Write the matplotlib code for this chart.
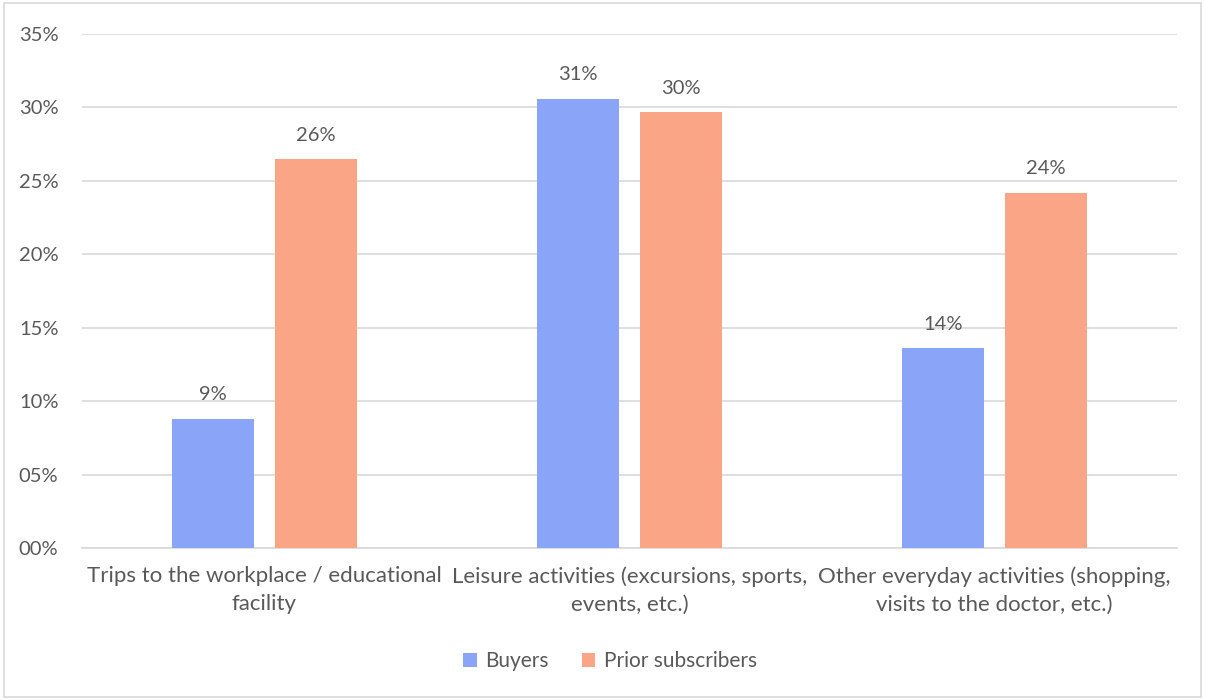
import numpy as np
import matplotlib.pyplot as plt

plt.rcParams['font.family'] = ['Lato', 'DejaVu Sans']

categories = ["Trips to the workplace / educational\nfacility",
              "Leisure activities (excursions, sports,\nevents, etc.)",
              "Other everyday activities (shopping,\nvisits to the doctor, etc.)"]
buyers = [8.8, 30.6, 13.6]
prior = [26.5, 29.7, 24.2]
yticks = [0, 5, 10, 15, 20, 25, 30, 35]
ytick_labels = ["00%", "05%", "10%", "15%", "20%", "25%", "30%", "35%"]

txt = '#595959'
c_buy = '#8aa4f8'
c_pri = '#f9a586'

fig = plt.figure(figsize=(12.05, 7), dpi=100)
# outer border
fig.patches.append(plt.Rectangle((0.003, 0.004), 0.994, 0.992, transform=fig.transFigure,
                                 fill=False, edgecolor='#d9d9d9', linewidth=1.2))
ax = fig.add_axes([82/1205, 1-548/700, (1177-82)/1205, (548-34)/700])

x = np.arange(len(categories))
w = 0.225
off = 0.141
b1 = ax.bar(x - off, buyers, w, color=c_buy, label='Buyers', zorder=3)
b2 = ax.bar(x + off, prior, w, color=c_pri, label='Prior subscribers', zorder=3)

for bars, vals in ((b1, buyers), (b2, prior)):
    for r, v in zip(bars, vals):
        ax.annotate(f"{v:.0f}%", (r.get_x() + r.get_width()/2, v), xytext=(0, 11),
                    textcoords='offset points', ha='center', va='bottom',
                    fontsize=14.5, color=txt)

ax.set_xlim(-0.5, 2.5)
ax.set_ylim(0, 35)
ax.set_yticks(yticks)
ax.set_yticklabels(ytick_labels)
ax.set_xticks(x)
ax.set_xticklabels(categories, linespacing=1.5)
ax.tick_params(axis='both', length=0, colors=txt)
ax.tick_params(axis='y', pad=17, labelsize=14.5)
ax.tick_params(axis='x', pad=13, labelsize=16)
ax.grid(axis='y', color='#d9d9d9', linewidth=1.2, zorder=0)
for s in ('top', 'right', 'left'):
    ax.spines[s].set_visible(False)
ax.spines['bottom'].set_color('#d9d9d9')
ax.spines['bottom'].set_linewidth(1.2)

fig.legend(handles=[b1, b2], loc='center', bbox_to_anchor=(610/1205, 1-661/700), ncol=2,
           frameon=False, fontsize=15, labelcolor=txt, handlelength=0.65, handleheight=0.65,
           columnspacing=1.6, handletextpad=0.4)

fig.savefig('out.png', dpi=100)
